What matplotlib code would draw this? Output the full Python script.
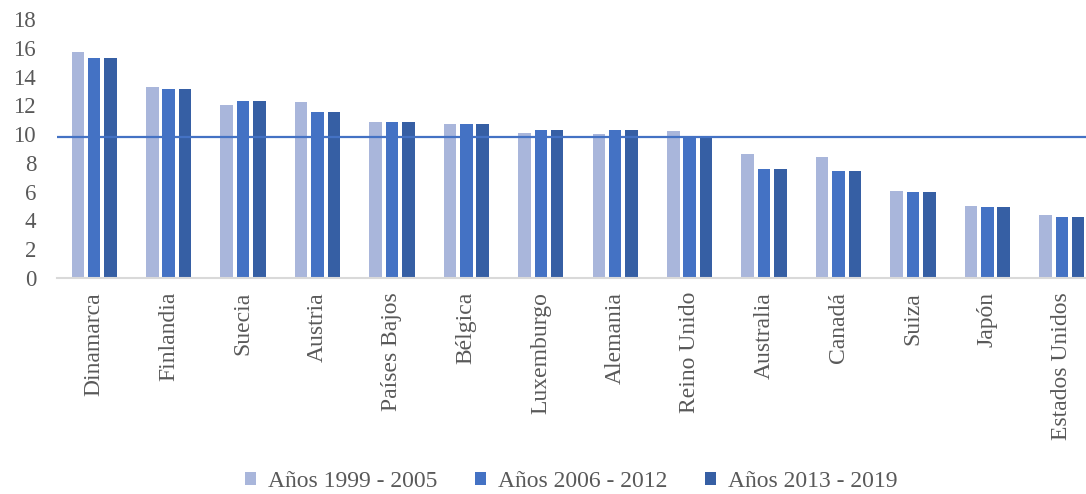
import matplotlib.pyplot as plt
import numpy as np

paises = ["Dinamarca", "Finlandia", "Suecia", "Austria", "Países Bajos", "Bélgica",
          "Luxemburgo", "Alemania", "Reino Unido", "Australia", "Canadá", "Suiza",
          "Japón", "Estados Unidos"]
p1999_2005 = [15.73, 13.27, 12.05, 12.21, 10.86, 10.70, 10.10, 10.01, 10.22, 8.62, 8.43, 6.02, 4.98, 4.40]
p2006_2012 = [15.31, 13.13, 12.30, 11.56, 10.86, 10.70, 10.29, 10.29, 9.87, 7.57, 7.44, 5.98, 4.93, 4.26]
p2013_2019 = [15.31, 13.13, 12.30, 11.56, 10.86, 10.70, 10.29, 10.29, 9.87, 7.57, 7.44, 5.98, 4.93, 4.26]
series_labels = ["Años 1999 - 2005", "Años 2006 - 2012", "Años 2013 - 2019"]
promedio = 9.78

colores = ["#A9B6DB", "#4472C4", "#365FA4"]
gris = "#595959"

plt.rcParams['font.family'] = ['Liberation Serif', 'DejaVu Serif']

fig = plt.figure(figsize=(10.86, 4.94), dpi=100)
# axes a little wider than the figure so the last group sits at the right edge
ax = fig.add_axes([57/1086, 1 - 278/494, 1042/1086, 259/494])

x = np.arange(len(paises))
w = 0.168
paso = 0.22
for i, (vals, col, lab) in enumerate(zip([p1999_2005, p2006_2012, p2013_2019], colores, series_labels)):
    ax.bar(x + (i - 1) * paso, vals, width=w, color=col, label=lab, zorder=2)

ax.axhline(promedio, color="#4472C4", lw=1.6, zorder=3)

ax.set_xlim(-0.5, len(paises) - 0.5)
ax.set_ylim(0, 18)
ax.set_yticks(range(0, 19, 2))
ax.set_xticks(x)
ax.set_xticklabels(paises, rotation=90, fontsize=17, color=gris)
ax.tick_params(axis='y', labelsize=16.5, labelcolor=gris, length=0, pad=15)
ax.tick_params(axis='x', length=0, pad=10)
for s in ["top", "right", "left"]:
    ax.spines[s].set_visible(False)
ax.spines["bottom"].set_color("#D9D9D9")
ax.spines["bottom"].set_linewidth(1.5)

fig.legend(loc="center", bbox_to_anchor=(571/1086, 1 - 481/494), ncol=3, frameon=False,
           fontsize=17, labelcolor=gris, handlelength=0.47, handleheight=0.47,
           handletextpad=0.5, columnspacing=1.6, borderpad=0)

fig.savefig("out.png", dpi=100)
